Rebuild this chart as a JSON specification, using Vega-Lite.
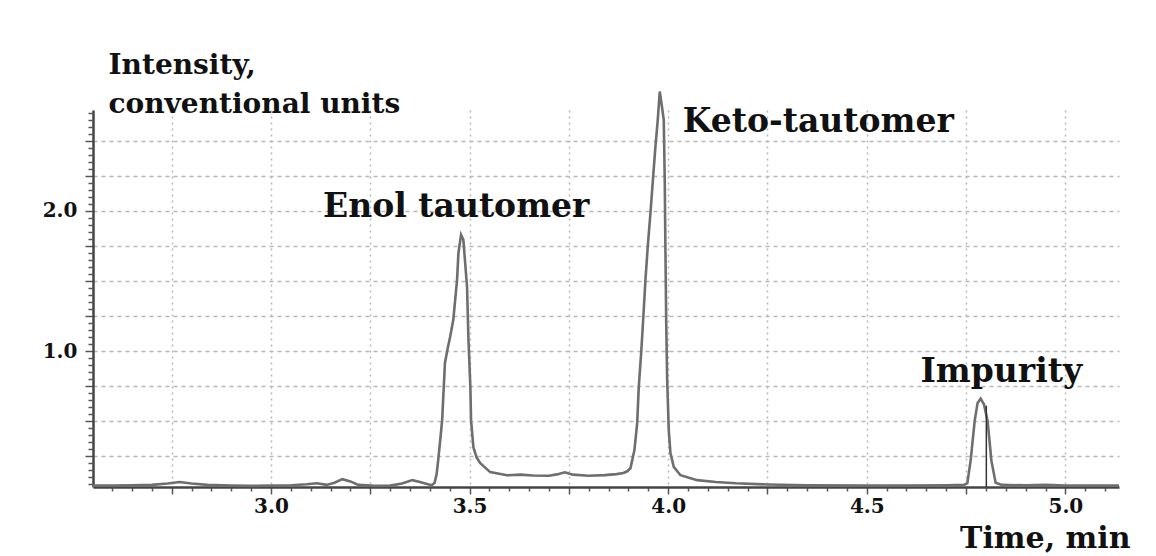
{
  "$schema": "https://vega.github.io/schema/vega-lite/v6.json",
  "width": 1026,
  "height": 377,
  "autosize": {"type": "none"},
  "padding": {"left": 93, "top": 110, "right": 37, "bottom": 69},
  "background": "white",
  "config": {"view": {"stroke": null}},
  "resolve": {"axis": {"x": "independent", "y": "independent"}},
  "layer": [
    {
      "data": {"values": [
        {"t": 2.552, "v": 0.04}, {"t": 2.60, "v": 0.04}, {"t": 2.65, "v": 0.042}, {"t": 2.70, "v": 0.045},
        {"t": 2.74, "v": 0.055}, {"t": 2.77, "v": 0.066}, {"t": 2.80, "v": 0.055}, {"t": 2.84, "v": 0.045},
        {"t": 2.90, "v": 0.04}, {"t": 2.95, "v": 0.038}, {"t": 3.00, "v": 0.04}, {"t": 3.05, "v": 0.042},
        {"t": 3.09, "v": 0.05}, {"t": 3.116, "v": 0.057}, {"t": 3.14, "v": 0.045}, {"t": 3.16, "v": 0.06},
        {"t": 3.18, "v": 0.086}, {"t": 3.20, "v": 0.07}, {"t": 3.22, "v": 0.045}, {"t": 3.26, "v": 0.038},
        {"t": 3.30, "v": 0.04}, {"t": 3.33, "v": 0.055}, {"t": 3.356, "v": 0.079}, {"t": 3.375, "v": 0.065},
        {"t": 3.395, "v": 0.05}, {"t": 3.405, "v": 0.043}, {"t": 3.412, "v": 0.06}, {"t": 3.417, "v": 0.12},
        {"t": 3.421, "v": 0.221}, {"t": 3.426, "v": 0.36}, {"t": 3.431, "v": 0.507}, {"t": 3.438, "v": 0.914},
        {"t": 3.445, "v": 1.02}, {"t": 3.451, "v": 1.10}, {"t": 3.459, "v": 1.221}, {"t": 3.4685, "v": 1.507},
        {"t": 3.472, "v": 1.70}, {"t": 3.4786, "v": 1.829}, {"t": 3.4844, "v": 1.793}, {"t": 3.4937, "v": 1.457},
        {"t": 3.497, "v": 1.10}, {"t": 3.502, "v": 0.743}, {"t": 3.5038, "v": 0.507}, {"t": 3.5096, "v": 0.314},
        {"t": 3.518, "v": 0.24}, {"t": 3.527, "v": 0.20}, {"t": 3.552, "v": 0.136}, {"t": 3.594, "v": 0.114},
        {"t": 3.628, "v": 0.118}, {"t": 3.66, "v": 0.112}, {"t": 3.70, "v": 0.11}, {"t": 3.72, "v": 0.12},
        {"t": 3.74, "v": 0.135}, {"t": 3.76, "v": 0.118}, {"t": 3.80, "v": 0.11}, {"t": 3.84, "v": 0.115},
        {"t": 3.87, "v": 0.122}, {"t": 3.8874, "v": 0.13}, {"t": 3.897, "v": 0.142}, {"t": 3.905, "v": 0.164},
        {"t": 3.9151, "v": 0.293}, {"t": 3.922, "v": 0.486}, {"t": 3.926, "v": 0.745}, {"t": 3.932, "v": 0.985},
        {"t": 3.937, "v": 1.22}, {"t": 3.9428, "v": 1.507}, {"t": 3.9486, "v": 1.745}, {"t": 3.9554, "v": 1.985},
        {"t": 3.9622, "v": 2.245}, {"t": 3.968, "v": 2.46}, {"t": 3.9738, "v": 2.65}, {"t": 3.9788, "v": 2.852},
        {"t": 3.984, "v": 2.75}, {"t": 3.9889, "v": 2.65}, {"t": 3.9914, "v": 2.22}, {"t": 3.9932, "v": 1.70},
        {"t": 3.995, "v": 1.22}, {"t": 3.9975, "v": 0.793}, {"t": 4.0015, "v": 0.436}, {"t": 4.0058, "v": 0.271},
        {"t": 4.0141, "v": 0.174}, {"t": 4.0309, "v": 0.114}, {"t": 4.073, "v": 0.079}, {"t": 4.12, "v": 0.066},
        {"t": 4.17, "v": 0.057}, {"t": 4.25, "v": 0.048}, {"t": 4.35, "v": 0.042}, {"t": 4.50, "v": 0.04},
        {"t": 4.60, "v": 0.04}, {"t": 4.70, "v": 0.042}, {"t": 4.745, "v": 0.045}, {"t": 4.7532, "v": 0.057},
        {"t": 4.7615, "v": 0.22}, {"t": 4.7716, "v": 0.50}, {"t": 4.779, "v": 0.63}, {"t": 4.7866, "v": 0.66},
        {"t": 4.795, "v": 0.62}, {"t": 4.8043, "v": 0.50}, {"t": 4.8136, "v": 0.22}, {"t": 4.8244, "v": 0.06},
        {"t": 4.84, "v": 0.045}, {"t": 4.90, "v": 0.042}, {"t": 4.95, "v": 0.045}, {"t": 5.00, "v": 0.04},
        {"t": 5.135, "v": 0.04}
      ]},
      "mark": {"type": "line", "stroke": "#6e6e6e", "strokeWidth": 2.6, "interpolate": "linear"},
      "encoding": {
        "x": {
          "field": "t", "type": "quantitative",
          "scale": {"domain": [2.552, 5.135], "nice": false, "zero": false},
          "axis": {
            "orient": "bottom",
            "values": [2.75, 3.0, 3.25, 3.5, 3.75, 4.0, 4.25, 4.5, 4.75, 5.0],
            "labelExpr": "abs(datum.value*2 - round(datum.value*2)) < 0.001 ? format(datum.value, '.1f') : ''",
            "grid": true, "gridColor": "#b8b8b8", "gridDash": [2, 4], "gridWidth": 1.5,
            "domainColor": "#444444", "domainWidth": 2.5,
            "tickColor": "#555555", "tickSize": 7, "tickWidth": 1.5,
            "labelFont": "DejaVu Serif", "labelFontWeight": "bold", "labelFontSize": 20, "labelColor": "#111111",
            "labelPadding": 2, "labelFlush": false,
            "title": "Time, min", "titleFont": "DejaVu Serif", "titleFontWeight": "bold", "titleFontSize": 30,
            "titleColor": "#111111", "titleAlign": "right", "titleAnchor": null, "titleBaseline": "alphabetic",
            "titleX": 1037, "titleY": 60
          }
        },
        "y": {
          "field": "v", "type": "quantitative",
          "scale": {"domain": [0.03, 2.72], "nice": false, "zero": false},
          "axis": {
            "orient": "left",
            "values": [0.25, 0.5, 0.75, 1.0, 1.25, 1.5, 1.75, 2.0, 2.25, 2.5],
            "labelExpr": "abs(datum.value - round(datum.value)) < 0.001 ? format(datum.value, '.1f') : ''",
            "grid": true, "gridColor": "#b8b8b8", "gridDash": [4, 4], "gridWidth": 1.5,
            "domainColor": "#444444", "domainWidth": 2.5,
            "tickColor": "#555555", "tickSize": 8, "tickWidth": 1.5,
            "labelFont": "DejaVu Serif", "labelFontWeight": "bold", "labelFontSize": 20, "labelColor": "#111111",
            "labelPadding": 8,
            "title": ["Intensity,", "conventional units"], "titleFont": "DejaVu Serif", "titleFontWeight": "bold",
            "titleFontSize": 28, "titleColor": "#111111", "titleAngle": 0, "titleAlign": "left",
            "titleAnchor": null, "titleBaseline": "alphabetic", "titleLineHeight": 39,
            "titleX": 15, "titleY": -37
          }
        }
      }
    },
    {
      "data": {"values": [{"t": 4.801, "v0": 0.03, "v1": 0.61}]},
      "mark": {"type": "rule", "stroke": "#333333", "strokeWidth": 1.5},
      "encoding": {
        "x": {
          "field": "t", "type": "quantitative",
          "axis": {
            "orient": "bottom",
            "values": [2.6, 2.65, 2.7, 2.8, 2.85, 2.9, 2.95, 3.05, 3.1, 3.15, 3.2, 3.3, 3.35, 3.4, 3.45, 3.55, 3.6, 3.65, 3.7, 3.8, 3.85, 3.9, 3.95, 4.05, 4.1, 4.15, 4.2, 4.3, 4.35, 4.4, 4.45, 4.55, 4.6, 4.65, 4.7, 4.8, 4.85, 4.9, 4.95, 5.05, 5.1],
            "labels": false, "grid": false, "domain": false, "title": null,
            "tickColor": "#555555", "tickSize": 4, "tickWidth": 1.5
          }
        },
        "y": {
          "field": "v0", "type": "quantitative",
          "axis": {
            "orient": "left",
            "values": [0.05, 0.1, 0.15, 0.2, 0.3, 0.35, 0.4, 0.45, 0.55, 0.6, 0.65, 0.7, 0.8, 0.85, 0.9, 0.95, 1.05, 1.1, 1.15, 1.2, 1.3, 1.35, 1.4, 1.45, 1.55, 1.6, 1.65, 1.7, 1.8, 1.85, 1.9, 1.95, 2.05, 2.1, 2.15, 2.2, 2.3, 2.35, 2.4, 2.45, 2.55, 2.6, 2.65, 2.7],
            "labels": false, "grid": false, "domain": false, "title": null,
            "tickColor": "#555555", "tickSize": 5, "tickWidth": 1.5
          }
        },
        "y2": {"field": "v1"}
      }
    },
    {
      "data": {"values": [
        {"t": 3.4665, "v": 1.955, "label": "Enol tautomer"},
        {"t": 4.378, "v": 2.564, "label": "Keto-tautomer"},
        {"t": 4.8386, "v": 0.779, "label": "Impurity"}
      ]},
      "mark": {"type": "text", "font": "DejaVu Serif", "fontWeight": "bold", "fontSize": 33, "color": "#111111", "align": "center", "baseline": "alphabetic"},
      "encoding": {
        "x": {"field": "t", "type": "quantitative", "axis": null},
        "y": {"field": "v", "type": "quantitative", "axis": null},
        "text": {"field": "label", "type": "nominal"}
      }
    }
  ]
}
